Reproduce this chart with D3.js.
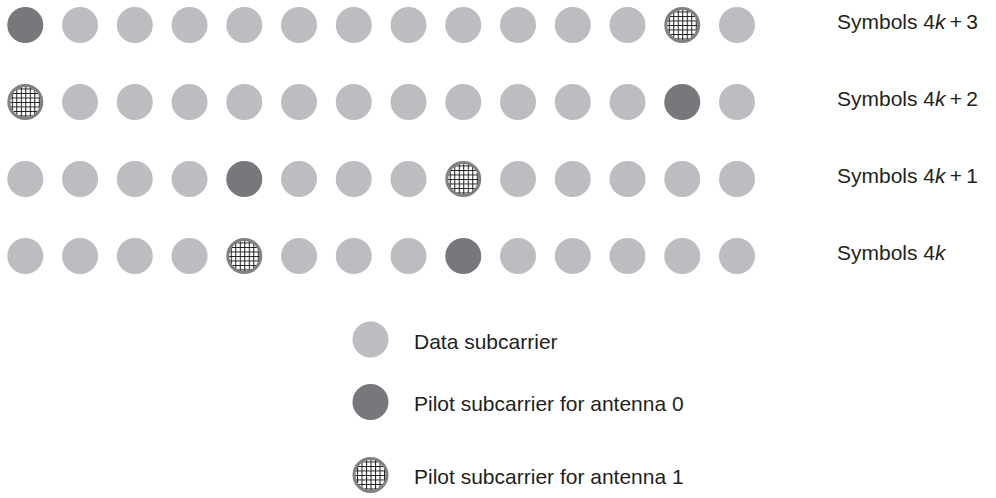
<!DOCTYPE html>
<html>
<head>
<meta charset="utf-8">
<script src="https://cdn.jsdelivr.net/npm/d3@7"></script>
<style>
  html, body { margin: 0; padding: 0; background: #fff; }
  svg { display: block; }
  text { font-family: "Liberation Sans", Arial, Helvetica, sans-serif; fill: #231f20; }
</style>
</head>
<body>
<script>
// ---- data ----
const subcarriers = d3.range(14);               // subcarrier indices 0..13
const symbolRows = ["4k+3", "4k+2", "4k+1", "4k"]; // OFDM symbol rows, top to bottom
const rowPlus = ["3", "2", "1", ""];             // "+ n" part of each row label
const pilotAnt0 = [0, 12, 4, 8];                 // subcarrier of antenna-0 pilot in each row
const pilotAnt1 = [12, 0, 8, 4];                 // subcarrier of antenna-1 pilot in each row
const legendTypes = ["data", "ant0", "ant1"];
const legendLabels = ["Data subcarrier", "Pilot subcarrier for antenna 0", "Pilot subcarrier for antenna 1"];

// ---- layout ----
const W = 996, H = 498;
const R = 18;
const FS = 21;
const colors = { data: "#bcbdc0", ant0: "#77787b", ring: "#808184" };

const svg = d3.select("body").append("svg").attr("width", W).attr("height", H);

const defs = svg.append("defs");
const P = 4.5;
const pat = defs.append("pattern").attr("id", "grid")
  .attr("patternUnits", "userSpaceOnUse").attr("width", P).attr("height", P);
pat.append("rect").attr("width", P).attr("height", P).attr("fill", "#fff");
pat.append("path").attr("d", `M0.5,0V${P}M0,0.5H${P}`).attr("stroke", "#1a1a1a").attr("stroke-width", 1);

const x = d3.scaleLinear().domain([0, 13]).range([25.3, 737]);
const y = d3.scalePoint().domain(symbolRows).range([25, 256]);

function typeOf(rowIdx, c) {
  if (pilotAnt0[rowIdx] === c) return "ant0";
  if (pilotAnt1[rowIdx] === c) return "ant1";
  return "data";
}

function drawMarker(g, type) {
  if (type === "ant1") {
    g.append("circle").attr("r", R - 1.5).attr("fill", "url(#grid)")
      .attr("stroke", colors.ring).attr("stroke-width", 3);
  } else {
    g.append("circle").attr("r", R).attr("fill", colors[type]);
  }
}

symbolRows.forEach((row, ri) => {
  const rowG = svg.append("g");
  subcarriers.forEach(c => {
    const g = rowG.append("g").attr("transform", `translate(${x(c)},${y(row)})`);
    drawMarker(g, typeOf(ri, c));
  });
  const t = svg.append("text").attr("x", 837).attr("y", y(row) + 3.5)
    .attr("font-size", FS);
  t.append("tspan").text("Symbols 4");
  t.append("tspan").attr("font-style", "italic").text("k");
  if (rowPlus[ri]) {
    t.append("tspan").text("\u2009+\u2009" + rowPlus[ri]);
  }
});

// ---- legend ----
const ly = d3.scaleOrdinal().domain(legendTypes).range([339.5, 402, 475]);
legendTypes.forEach((tp, i) => {
  const g = svg.append("g").attr("transform", `translate(370.5,${ly(tp)})`);
  drawMarker(g, tp);
  svg.append("text").attr("x", 414).attr("y", ly(tp) + 9).attr("font-size", FS)
    .text(legendLabels[i]);
});
</script>
</body>
</html>
